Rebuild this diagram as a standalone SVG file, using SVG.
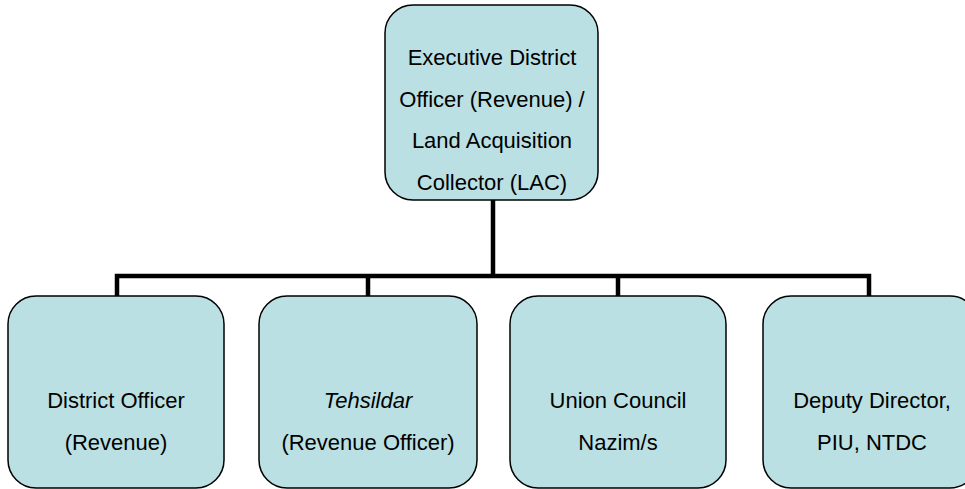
<svg xmlns="http://www.w3.org/2000/svg" width="965" height="489" viewBox="0 0 965 489">
<style>
.box{fill:#BBE0E3;stroke:#000;stroke-width:1.5}
.t{font-family:"Liberation Sans",Arial,sans-serif;font-size:22px;fill:#000;text-anchor:middle}
.c{fill:none;stroke:#000;stroke-width:4.5;stroke-linejoin:miter;stroke-linecap:butt}
</style>
<rect width="965" height="489" fill="#fff"/>
<g id="connectors">
<path class="c" d="M493,200 V276"/>
<path class="c" d="M117,296 V276 H869 V296"/>
<path class="c" d="M368,276 V296"/>
<path class="c" d="M618,276 V296"/>
</g>
<g id="n0">
<rect class="box" x="385" y="5" width="213" height="195" rx="28" ry="28"/>
<text class="t" x="492" y="65">Executive District</text>
<text class="t" x="492" y="106.5">Officer (Revenue) /</text>
<text class="t" x="492" y="148">Land Acquisition</text>
<text class="t" x="492" y="189.5">Collector (LAC)</text>
</g>
<g id="n1">
<rect class="box" x="8" y="296" width="216" height="192" rx="28" ry="28"/>
<text class="t" x="116" y="408">District Officer</text>
<text class="t" x="116" y="450">(Revenue)</text>
</g>
<g id="n2">
<rect class="box" x="259" y="296" width="218" height="192" rx="28" ry="28"/>
<text class="t" x="368" y="408" font-style="italic">Tehsildar</text>
<text class="t" x="368" y="450">(Revenue Officer)</text>
</g>
<g id="n3">
<rect class="box" x="510" y="296" width="216" height="192" rx="28" ry="28"/>
<text class="t" x="618" y="408">Union Council</text>
<text class="t" x="618" y="450">Nazim/s</text>
</g>
<g id="n4">
<rect class="box" x="763" y="296" width="215" height="192" rx="28" ry="28"/>
<text class="t" x="872" y="408">Deputy Director,</text>
<text class="t" x="872" y="450">PIU, NTDC</text>
</g>
</svg>
